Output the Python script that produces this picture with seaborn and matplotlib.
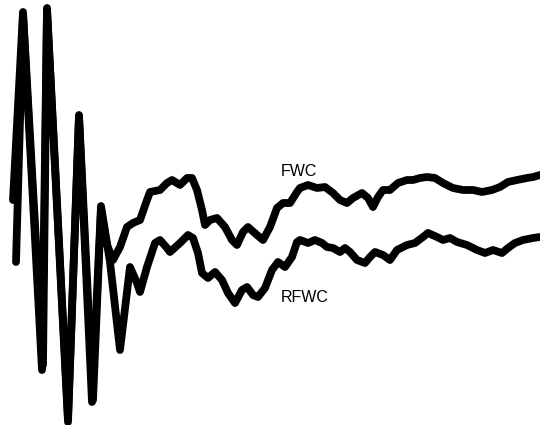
import matplotlib
matplotlib.use("Agg")
import matplotlib.pyplot as plt
import seaborn as sns
import pandas as pd

# Sample index (time) and amplitude (arbitrary units) for each trace
fwc_t = [13, 23, 43, 47, 68, 79, 93, 101, 107, 113, 120, 127, 133, 140, 147, 150, 160, 167,
         172, 180, 187, 192, 197, 202, 205, 210, 217, 225, 232, 237, 243, 248, 257, 263, 270,
         277, 283, 290, 297, 300, 308, 317, 325, 333, 340, 347, 353, 362, 368, 373, 378, 383,
         390, 398, 407, 413, 420, 427, 435, 443, 453, 463, 473, 482, 492, 500, 508, 517, 527,
         533, 540]
fwc_v = [100, 288, -65, 292, -118, 185, -100, 90, 55, 40, 53, 73, 77, 80, 100, 108, 110, 117,
         120, 115, 122, 122, 110, 90, 75, 80, 82, 73, 60, 55, 68, 73, 65, 60, 73,
         92, 97, 97, 108, 112, 115, 112, 113, 107, 100, 97, 102, 107, 102, 93, 103, 110,
         110, 117, 120, 120, 122, 123, 122, 117, 112, 110, 110, 108, 110, 113, 118, 120, 122,
         123, 125]

rfwc_t = [16, 23, 42, 47, 68, 79, 92, 101, 110, 120, 130, 137, 140, 147, 155, 160, 167, 170,
          180, 188, 193, 198, 202, 208, 215, 222, 228, 235, 242, 247, 253, 258, 265, 272, 278,
          285, 292, 297, 300, 308, 315, 322, 327, 333, 340, 345, 350, 357, 365, 370, 375, 383,
          390, 397, 407, 415, 423, 428, 437, 443, 450, 457, 467, 477, 485, 493, 502, 508, 515,
          523, 533, 540]
rfwc_v = [38, 286, -70, 290, -122, 183, -102, 94, 38, -50, 33, 17, 8, 33, 57, 60, 52, 48,
          57, 65, 62, 47, 27, 22, 28, 20, 7, -3, 10, 13, 5, 3, 12, 30, 38,
          33, 43, 58, 60, 57, 60, 57, 53, 52, 48, 52, 48, 40, 37, 43, 48, 45,
          40, 50, 55, 57, 63, 67, 63, 60, 62, 58, 55, 50, 47, 50, 47, 52, 57,
          60, 62, 63]

labels = ["FWC", "RFWC"]

df = pd.concat([
    pd.DataFrame({"t": fwc_t, "v": fwc_v, "series": labels[0]}),
    pd.DataFrame({"t": rfwc_t, "v": rfwc_v, "series": labels[1]}),
])

sns.set_style("white")
plt.rcParams["font.family"] = ["Liberation Sans", "DejaVu Sans"]

fig = plt.figure(figsize=(5.4, 4.25), dpi=100)
ax = fig.add_axes([0, 0, 1, 1])
sns.lineplot(data=df, x="t", y="v", units="series", estimator=None, sort=False,
             color="black", linewidth=5.6, ax=ax, legend=False,
             solid_joinstyle="round", solid_capstyle="round")
ax.set_xlim(0, 540)
ax.set_ylim(-125, 300)
ax.axis("off")

ax.text(299, 129, labels[0], ha="center", va="center", fontsize=11.5, color="black")
ax.text(305, 2, labels[1], ha="center", va="center", fontsize=11.5, color="black")

fig.savefig("out.png", dpi=100)
